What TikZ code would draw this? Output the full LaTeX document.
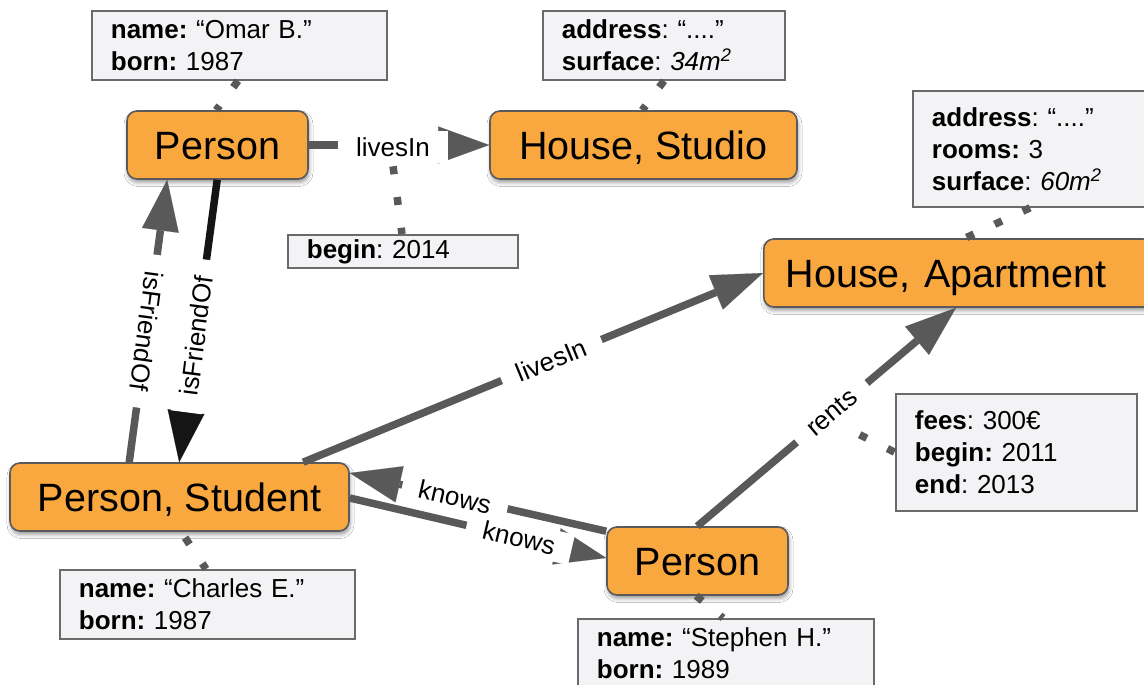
\documentclass[tikz,border=0pt]{standalone}
\usepackage{fontspec}
\setmainfont{Liberation Sans}
\usetikzlibrary{arrows.meta,shadows.blur}

\definecolor{nodeorange}{HTML}{F9A83F}
\definecolor{nodeedge}{HTML}{5A5A5A}
\definecolor{relgray}{HTML}{595959}
\definecolor{relblack}{HTML}{151515}
\definecolor{propfill}{HTML}{F3F3F5}
\definecolor{propedge}{HTML}{6A6A6A}

\begin{document}
\frenchspacing
\begin{tikzpicture}[x=1pt,y=-1pt,
  entity/.style={draw=nodeedge, line width=1.6pt, fill=nodeorange,
    rounded corners=10pt, minimum height=68pt, inner sep=0pt,
    font=\fontsize{39.5}{47}\selectfont, text height=28.5pt, text depth=0pt,
    blur shadow={shadow xshift=1pt, shadow yshift=-3.5pt,
      shadow blur radius=4pt, shadow opacity=40}},
  prop/.style 2 args={draw=propedge, line width=1.8pt, fill=propfill,
    anchor=north west, align=left, inner xsep=19pt, inner ysep=0pt,
    text width=#1, minimum height=#2, font=\fontsize{26}{32}\selectfont},
  rel/.style={draw=relgray, line width=7.5pt,
    -{Triangle[length=51pt,width=37pt,line width=0.1pt]}},
  rellabel/.style={fill=white, inner xsep=17pt, inner ysep=6pt,
    font=\fontsize{26}{31}\selectfont, text=black},
  dotline/.style={draw=relgray, line width=7.5pt, dash pattern=on 8pt off 23pt},
]
\path[use as bounding box, fill=white] (0,0) rectangle (1144,685);

% entities
\node[entity, minimum width=181pt] (p1) at (217.5,145) {Person};
\node[entity, minimum width=307pt] (studio) at (643.5,145) {House, Studio};
\node[entity, anchor=west, text width=345pt, align=left, inner xsep=22pt]
  (apt) at (763,273) {House, Apartment};
\node[entity, minimum width=339pt] (stu) at (179.5,497) {Person, Student};
\node[entity, minimum width=181pt] (p2) at (697.5,561) {Person};

% property boxes
\node[prop={257pt}{69pt}] (omar) at (91,10)
  {\textbf{name:} “Omar B.”\\\textbf{born:} 1987};
\node[prop={204pt}{69pt}] (sprops) at (542,10)
  {\textbf{address}: “....”\\\textbf{surface}: \textit{34m\textsuperscript{2}}};
\node[prop={192pt}{33pt}] (beg) at (287,234) {\textbf{begin}: 2014};
\node[prop={207pt}{116pt}] (aprops) at (912,90)
  {\textbf{address}: “....”\\\textbf{rooms:} 3\\\textbf{surface}: \textit{60m\textsuperscript{2}}};
\node[prop={203pt}{117pt}] (fees) at (895,393)
  {\textbf{fees}: 300€\\\textbf{begin:} 2011\\\textbf{end}: 2013};
\node[prop={257pt}{69pt}] (charles) at (59,569)
  {\textbf{name:} “Charles E.”\\\textbf{born:} 1987};
\node[prop={258pt}{69pt}] (stephen) at (577,618)
  {\textbf{name:} “Stephen H.”\\\textbf{born:} 1989};

% relationships
\draw[rel] (p1.east) -- node[rellabel, pos=0.467, inner xsep=18.5pt, yshift=-2pt] (lv1) {livesIn} (studio.west);
\draw[rel] ([xshift=120pt]stu.north west) --
  node[rellabel, pos=0.464, rotate=-97.7] {isFriendOf} ([xshift=41pt]p1.south west);
\draw[rel, draw=relblack] ([xshift=91pt]p1.south west) --
  node[rellabel, pos=0.553, rotate=82.6] {isFriendOf} ([xshift=170pt]stu.north west);
\draw[rel] ([xshift=294pt]stu.north west) --
  node[rellabel, pos=0.54, sloped] {livesIn} (apt.west);
\draw[rel] ([xshift=91pt]p2.north west) --
  node[rellabel, pos=0.52, sloped] (rl) {rents} ([xshift=193pt]apt.south west);
\draw[rel] ([yshift=-5pt]p2.north west) --
  node[rellabel, pos=0.59, sloped] {knows} ([yshift=24pt]stu.east);
\draw[rel] ([yshift=-1pt]stu.east) --
  node[rellabel, pos=0.66, sloped] {knows} ([yshift=3pt]p2.west);

% property attachments
\draw[dotline] ([xshift=147pt]omar.south west) -- ([xshift=90pt]p1.north west);
\draw[dotline] ([xshift=122pt]sprops.south west) -- ([xshift=153pt]studio.north west);
\draw[dotline] (lv1.south) -- ([xshift=115pt]beg.north west);
\draw[dotline] ([xshift=118pt]aprops.south west) -- ([xshift=202pt]apt.north west);
\draw[dotline, dash phase=13pt] (rl.south) -- (fees.west);
\draw[dotline, dash phase=24pt] ([xshift=172pt]stu.south west) -- ([xshift=147pt]charles.north west);
\draw[dotline] ([xshift=90pt]p2.south west) -- ([xshift=146pt]stephen.north west);
\end{tikzpicture}
\end{document}
